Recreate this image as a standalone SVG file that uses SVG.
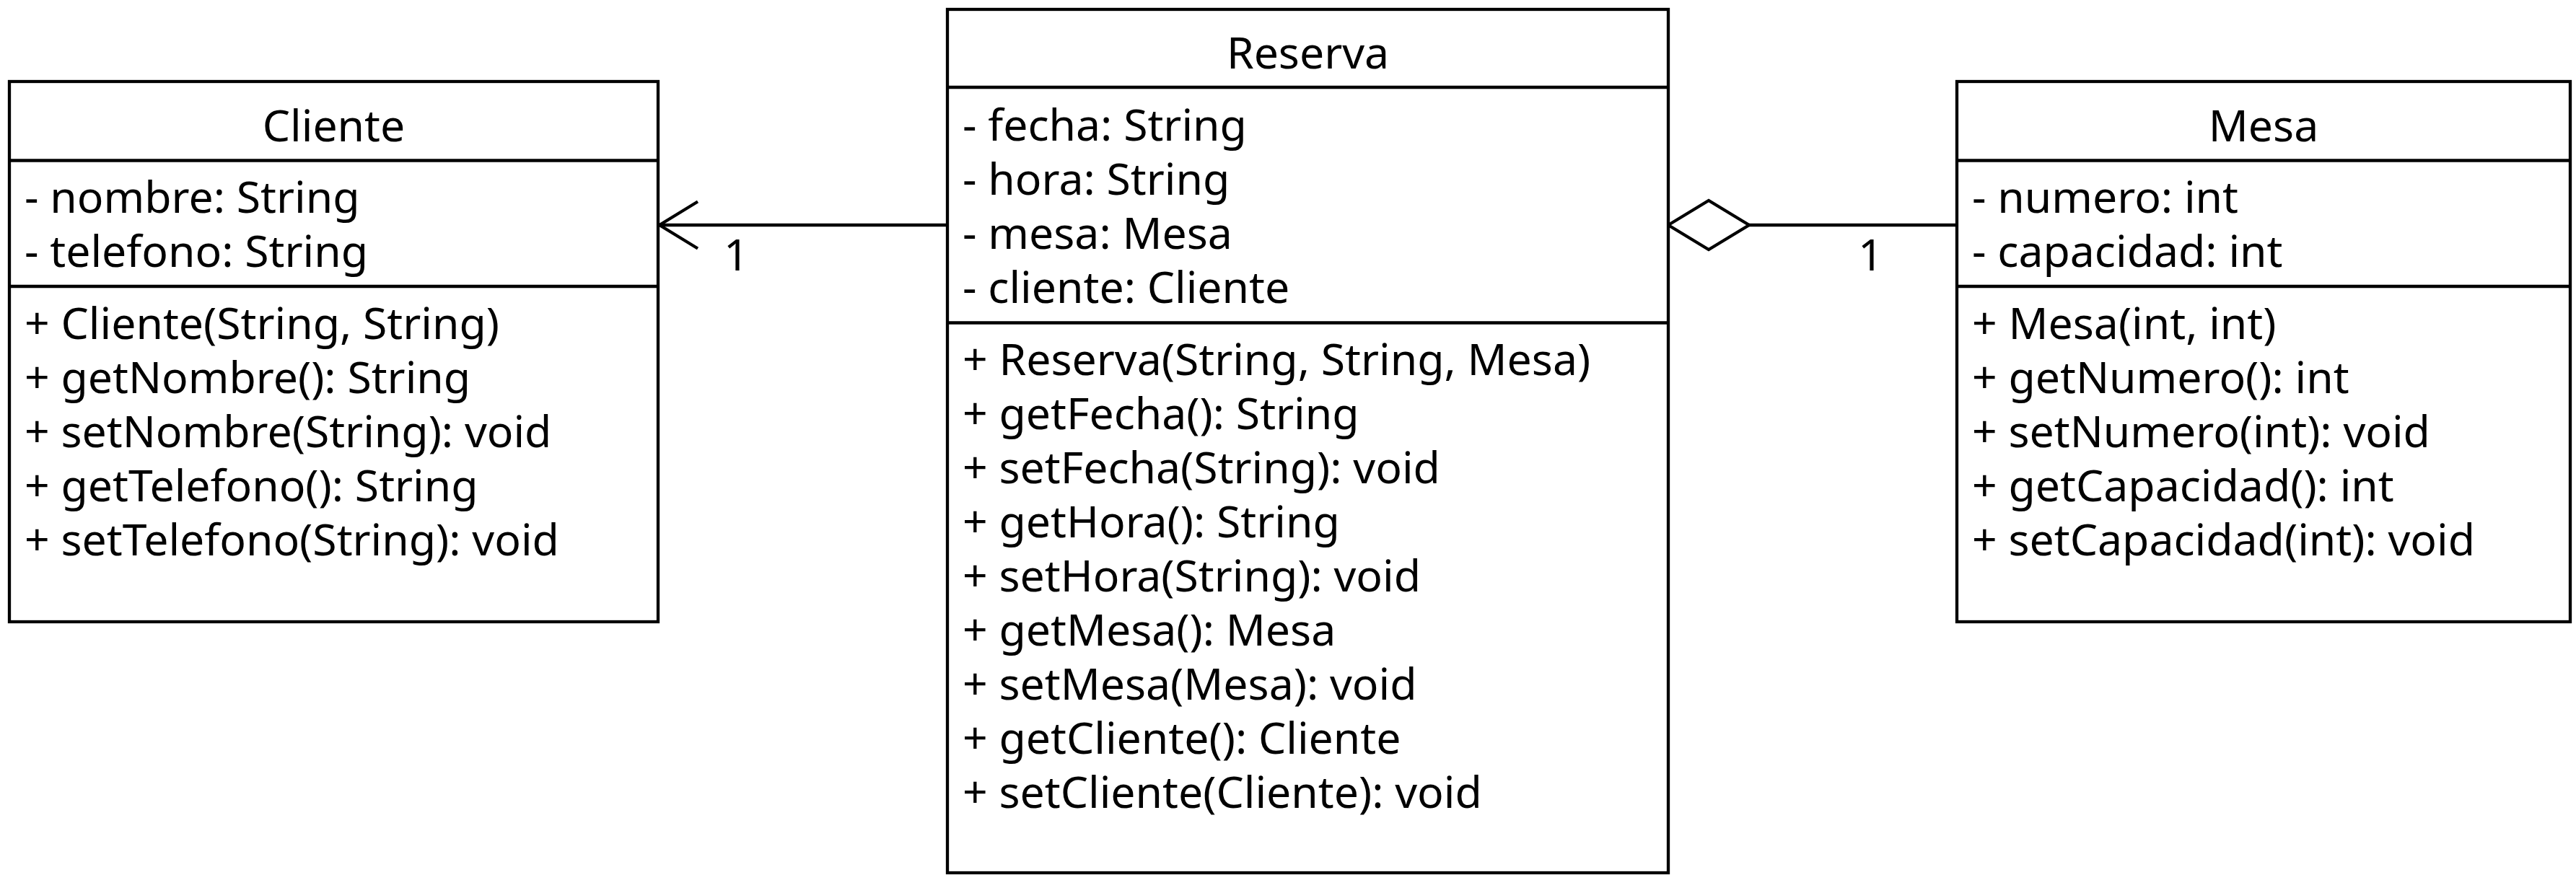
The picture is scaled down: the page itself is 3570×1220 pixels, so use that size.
<svg xmlns="http://www.w3.org/2000/svg" width="3570" height="1220" viewBox="0 0 3570 1220">
<style>
.box{fill:#fff;stroke:#000;stroke-width:4.3}
.div{stroke:#000;stroke-width:4.3}
text{font-family:"Noto Sans","Open Sans","DejaVu Sans",sans-serif;font-size:60.7px;fill:#000}
.title{text-anchor:middle}
.conn{fill:none;stroke:#000;stroke-width:4.3}
.diamond{fill:#fff;stroke:#000;stroke-width:4.3;stroke-linejoin:miter}
</style>
<rect width="3570" height="1220" fill="#fff"/>
<g id="connectors">
<line class="conn" x1="1313" y1="312" x2="914" y2="312"/>
<polyline class="conn" points="967,279.5 914,312 967,344.5"/>
<text x="1003" y="375">1</text>
<line class="conn" x1="2424" y1="312" x2="2712" y2="312"/>
<polygon class="diamond" points="2312,312 2368,278 2424,312 2368,346"/>
<text x="2575" y="375">1</text>
</g>
<g id="cliente">
<rect class="box" x="13" y="113" width="899" height="749"/>
<text class="title" x="462.5" y="196">Cliente</text>
<line class="div" x1="13" y1="222.5" x2="912" y2="222.5"/>
<text x="34" y="295">- nombre: String</text>
<text x="34" y="370">- telefono: String</text>
<line class="div" x1="13" y1="397" x2="912" y2="397"/>
<text x="34" y="470">+ Cliente(String, String)</text>
<text x="34" y="545">+ getNombre(): String</text>
<text x="34" y="620">+ setNombre(String): void</text>
<text x="34" y="695">+ getTelefono(): String</text>
<text x="34" y="770">+ setTelefono(String): void</text>
</g>
<g id="reserva">
<rect class="box" x="1313" y="13" width="999" height="1197"/>
<text class="title" x="1812.5" y="95">Reserva</text>
<line class="div" x1="1313" y1="121" x2="2312" y2="121"/>
<text x="1334" y="195">- fecha: String</text>
<text x="1334" y="270">- hora: String</text>
<text x="1334" y="345">- mesa: Mesa</text>
<text x="1334" y="420">- cliente: Cliente</text>
<line class="div" x1="1313" y1="447.5" x2="2312" y2="447.5"/>
<text x="1334" y="520">+ Reserva(String, String, Mesa)</text>
<text x="1334" y="595">+ getFecha(): String</text>
<text x="1334" y="670">+ setFecha(String): void</text>
<text x="1334" y="745">+ getHora(): String</text>
<text x="1334" y="820">+ setHora(String): void</text>
<text x="1334" y="895">+ getMesa(): Mesa</text>
<text x="1334" y="970">+ setMesa(Mesa): void</text>
<text x="1334" y="1045">+ getCliente(): Cliente</text>
<text x="1334" y="1120">+ setCliente(Cliente): void</text>
</g>
<g id="mesa">
<rect class="box" x="2712" y="113" width="850" height="749"/>
<text class="title" x="3137" y="196">Mesa</text>
<line class="div" x1="2712" y1="222.5" x2="3562" y2="222.5"/>
<text x="2733" y="295">- numero: int</text>
<text x="2733" y="370">- capacidad: int</text>
<line class="div" x1="2712" y1="397" x2="3562" y2="397"/>
<text x="2733" y="470">+ Mesa(int, int)</text>
<text x="2733" y="545">+ getNumero(): int</text>
<text x="2733" y="620">+ setNumero(int): void</text>
<text x="2733" y="695">+ getCapacidad(): int</text>
<text x="2733" y="770">+ setCapacidad(int): void</text>
</g>
</svg>
